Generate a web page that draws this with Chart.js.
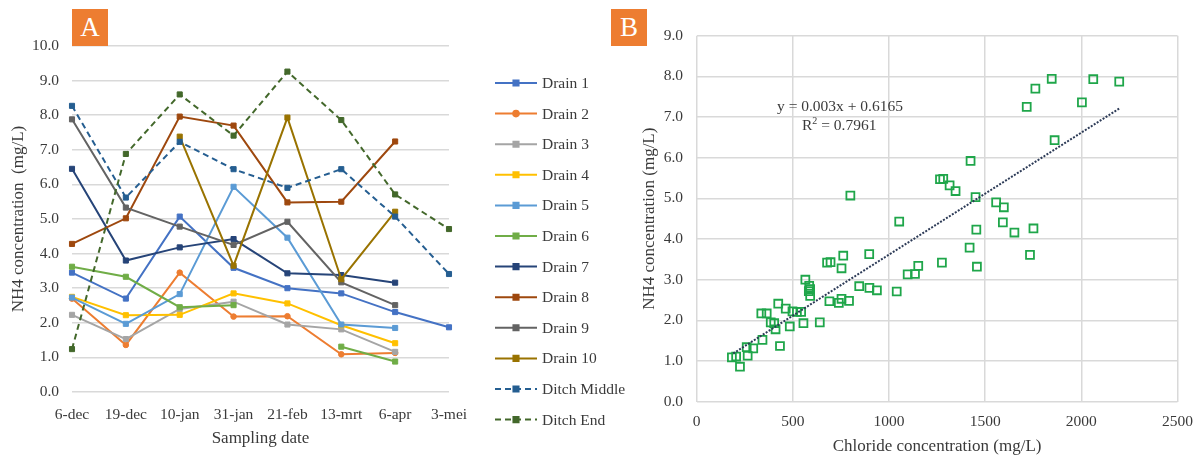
<!DOCTYPE html>
<html>
<head>
<meta charset="utf-8">
<script src="https://cdn.jsdelivr.net/npm/chart.js@4/dist/chart.umd.min.js"></script>
<style>
  body { margin: 0; background: #fff; overflow: hidden; }
  #wrap { position: relative; width: 1201px; height: 457px; overflow: hidden; font-family: "Liberation Serif", serif; color: #3a3a3a; }
  canvas { position: absolute; top: 0; }
  #chartA { left: 0; }
  #chartB { left: 620px; }
  .tag { position: absolute; background: #ED7D31; color: #fff; font-size: 27px; text-align: center; line-height: 37px; width: 36px; height: 37px; top: 9px; }
  .eq { position: absolute; font-size: 15.5px; white-space: nowrap; }
</style>
</head>
<body>
<div id="wrap">
  <canvas id="chartA" width="640" height="457"></canvas>
  <canvas id="chartB" width="584" height="457"></canvas>
  <div class="tag" style="left:72px">A</div>
  <div class="tag" style="left:611px">B</div>
  <div class="eq" style="left:777px; top:97px">y = 0.003x + 0.6165</div>
  <div class="eq" style="left:802px; top:115px">R<sup style="font-size:10px">2</sup> = 0.7961</div>
</div>
<script>
// panel A data
const dates = ['6-dec', '19-dec', '10-jan', '31-jan', '21-feb', '13-mrt', '6-apr', '3-mei'];
const drain1 = [3.45, 2.70, 5.07, 3.59, 3.00, 2.85, 2.31, 1.87];
const drain2 = [2.70, 1.36, 3.45, 2.18, 2.19, 1.09, 1.13, null];
const drain3 = [2.23, 1.53, 2.40, 2.61, 1.95, 1.81, 1.16, null];
const drain4 = [2.75, 2.22, 2.23, 2.85, 2.56, 1.93, 1.41, null];
const drain5 = [2.73, 1.97, 2.83, 5.93, 4.46, 1.95, 1.85, null];
const drain6 = [3.62, 3.33, 2.45, 2.51, null, 1.31, 0.88, null];
const drain7 = [6.45, 3.80, 4.18, 4.42, 3.43, 3.38, 3.16, null];
const drain8 = [4.28, 5.02, 7.96, 7.70, 5.48, 5.50, 7.24, null];
const drain9 = [7.88, 5.33, 4.78, 4.25, 4.92, 3.17, 2.51, null];
const drain10 = [null, null, 7.38, 3.65, 7.93, 3.26, 5.21, null];
const ditchMiddle = [8.27, 5.62, 7.23, 6.44, 5.90, 6.44, 5.07, 3.41];
const ditchEnd = [1.24, 6.88, 8.60, 7.41, 9.26, 7.86, 5.71, 4.71];

const seriesNames = ['Drain 1', 'Drain 2', 'Drain 3', 'Drain 4', 'Drain 5', 'Drain 6', 'Drain 7', 'Drain 8', 'Drain 9', 'Drain 10', 'Ditch Middle', 'Ditch End'];
const seriesValues = [drain1, drain2, drain3, drain4, drain5, drain6, drain7, drain8, drain9, drain10, ditchMiddle, ditchEnd];
const seriesColors = ['#4472C4', '#ED7D31', '#A5A5A5', '#FFC000', '#5B9BD5', '#70AD47', '#264478', '#9E480E', '#636363', '#997300', '#255E91', '#43682B'];
const yTicksA = [0, 1, 2, 3, 4, 5, 6, 7, 8, 9, 10];

// panel B data
const chloride = [183, 205, 225, 260, 265, 294, 342, 336, 364, 385, 403, 410, 424, 433, 463, 484, 498, 521, 543, 555,
  565, 585, 583, 590, 590, 640, 678, 696, 690, 753, 762, 739, 753, 792, 845, 897, 898, 937, 1040, 799,
  1053, 1097, 1135, 1152, 1275, 1419, 1457, 1454, 1424, 1265, 1282, 1315, 1346, 1450, 1557, 1597, 1592, 1652, 1751, 1733,
  1716, 1761, 1846, 2062, 2197, 2003, 1861];
const nh4 = [1.09, 1.11, 0.86, 1.34, 1.13, 1.31, 1.52, 2.17, 2.17, 1.95, 1.93, 1.78, 2.41, 1.37, 2.29, 1.85, 2.22, 2.21, 2.21, 1.93,
  3.00, 2.85, 2.72, 2.77, 2.60, 1.95, 3.42, 3.43, 2.47, 3.28, 3.59, 2.43, 2.53, 2.48, 2.84, 3.63, 2.80, 2.74, 2.71, 5.07,
  4.43, 3.13, 3.14, 3.34, 3.42, 3.79, 3.32, 4.23, 5.92, 5.47, 5.48, 5.32, 5.18, 5.03, 4.90, 4.78, 4.41, 4.16, 4.26, 3.61,
  7.25, 7.70, 7.94, 7.93, 7.87, 7.36, 6.43];
const trendSlope = 0.003;
const trendIntercept = 0.6165;
const trendRange = [190, 2200];

const textColor = '#3a3a3a';
const gridColor = '#d9d9d9';
const tickFont = { family: 'Liberation Serif', size: 15.5 };
const titleFont = { family: 'Liberation Serif', size: 17 };

// legend with line + marker, like the excel one
const legendA = {
  id: 'legendA',
  afterDraw(chart) {
    const ctx = chart.ctx;
    chart.data.datasets.forEach((ds, i) => {
      const y = 83 + i * 30.6;
      ctx.save();
      ctx.strokeStyle = ds.borderColor;
      ctx.lineWidth = 2;
      ctx.setLineDash(ds.borderDash || []);
      ctx.beginPath();
      ctx.moveTo(495, y);
      ctx.lineTo(537, y);
      ctx.stroke();
      ctx.setLineDash([]);
      ctx.fillStyle = ds.borderColor;
      Chart.helpers.drawPoint(ctx, { pointStyle: ds.pointStyle, radius: ds.pointRadius, borderWidth: 1 }, 516, y);
      ctx.fillStyle = textColor;
      ctx.font = '15.5px "Liberation Serif"';
      ctx.textBaseline = 'middle';
      ctx.fillText(ds.label, 542, y + 1);
      ctx.restore();
    });
  }
};

const datasetsA = seriesNames.map((name, i) => ({
  label: name,
  data: seriesValues[i],
  borderColor: seriesColors[i],
  backgroundColor: seriesColors[i],
  pointBackgroundColor: seriesColors[i],
  pointBorderColor: seriesColors[i],
  borderWidth: 2,
  borderDash: i >= 10 ? [6, 4] : [],
  pointStyle: i === 1 ? 'circle' : 'rect',
  pointRadius: i === 1 ? 2.8 : 3.6,
  pointBorderWidth: 1,
  spanGaps: false,
  tension: 0,
  order: 20 - i
}));

new Chart(document.getElementById('chartA'), {
  type: 'line',
  data: { labels: dates, datasets: datasetsA },
  plugins: [legendA],
  options: {
    responsive: false,
    animation: false,
    layout: { padding: { left: 0, top: 46, right: 191, bottom: 0 } },
    plugins: { legend: { display: false }, tooltip: { enabled: false } },
    scales: {
      x: {
        offset: false,
        grid: { display: false },
        border: { display: false },
        ticks: { color: textColor, font: tickFont, maxRotation: 0, autoSkip: false, padding: 6 },
        title: { display: true, text: 'Sampling date', color: textColor, font: titleFont, padding: { top: 0, bottom: 8 } },
        afterFit(scale) { scale.height = 65; }
      },
      y: {
        min: yTicksA[0],
        max: yTicksA[yTicksA.length - 1],
        grid: { color: gridColor, lineWidth: 1.5, drawTicks: false },
        border: { display: false },
        ticks: { stepSize: 1, color: textColor, font: tickFont, padding: 13, callback: v => v.toFixed(1) },
        title: { display: true, text: 'NH4 concentration  (mg/L)', color: textColor, font: titleFont, padding: { top: 8.3, bottom: 0 } },
        afterFit(scale) { scale.width = 72; }
      }
    }
  }
});

const points = chloride.map((c, i) => ({ x: c, y: nh4[i] }));
const trend = trendRange.map(x => ({ x: x, y: trendSlope * x + trendIntercept }));

new Chart(document.getElementById('chartB'), {
  type: 'scatter',
  data: {
    datasets: [
      {
        label: 'NH4',
        data: points,
        pointStyle: 'rect',
        pointRadius: 5.6,
        pointBorderWidth: 1.8,
        pointBorderColor: '#1fa64a',
        pointBackgroundColor: 'rgba(0,0,0,0)',
        order: 2
      },
      {
        type: 'line',
        label: 'trend',
        data: trend,
        borderColor: '#2d3b57',
        borderWidth: 2,
        borderDash: [2, 1.5],
        pointRadius: 0,
        order: 1
      }
    ]
  },
  options: {
    responsive: false,
    animation: false,
    layout: { padding: { left: 0, top: 35.7, right: 20, bottom: 0 } },
    plugins: { legend: { display: false }, tooltip: { enabled: false } },
    scales: {
      x: {
        type: 'linear',
        min: 0,
        max: 2500,
        grid: { color: gridColor, lineWidth: 1.5, drawTicks: false },
        border: { display: false },
        ticks: { stepSize: 500, color: textColor, font: tickFont, padding: 11, maxRotation: 0, callback: v => String(v) },
        title: { display: true, text: 'Chloride concentration (mg/L)', color: textColor, font: titleFont, padding: { top: 0, bottom: 0 } },
        afterFit(scale) { scale.height = 55.3; }
      },
      y: {
        min: 0,
        max: 9,
        grid: { color: gridColor, lineWidth: 1.5, drawTicks: false },
        border: { display: false },
        ticks: { stepSize: 1, color: textColor, font: tickFont, padding: 13.7, callback: v => v.toFixed(1) },
        title: { display: true, text: 'NH4 concentration (mg/L)', color: textColor, font: titleFont, padding: { top: 19.8, bottom: 0 } },
        afterFit(scale) { scale.width = 76.7; }
      }
    }
  }
});
</script>
</body>
</html>
